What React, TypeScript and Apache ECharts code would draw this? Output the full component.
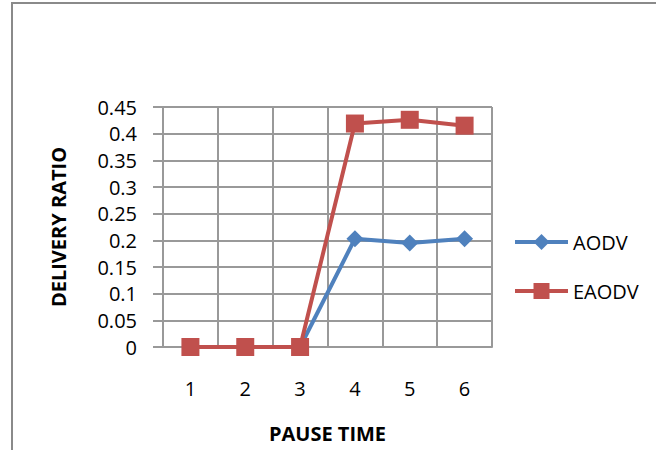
import React, { useEffect, useRef } from "react";
import * as echarts from "echarts";

const categories = ["1", "2", "3", "4", "5", "6"];
const aodv = [0, 0, 0, 0.203, 0.195, 0.203];
const eaodv = [0, 0, 0, 0.419, 0.426, 0.415];
const xName = "PAUSE TIME";
const yName = "DELIVERY RATIO";

const FONT = "'Open Sans', 'Noto Sans', sans-serif";
const GRID = "#999999";

export default function App() {
  const ref = useRef<HTMLDivElement>(null);
  useEffect(() => {
    if (!ref.current) return;
    const chart = echarts.init(ref.current, null, { renderer: "svg" });
    chart.setOption({
      animation: false,
      backgroundColor: "#ffffff",
      textStyle: { fontFamily: FONT },
      graphic: [
        {
          type: "rect",
          shape: { x: 12, y: 3, width: 720, height: 520 },
          style: { fill: "none", stroke: "#8a8a8a", lineWidth: 2 },
          silent: true,
        },
      ],
      grid: { left: 163, right: 164, top: 107, bottom: 103 },
      legend: {
        orient: "vertical",
        left: 513,
        top: 232,
        padding: 0,
        itemWidth: 53,
        itemHeight: 20,
        itemGap: 29,
        lineStyle: { width: 4 },
        textStyle: { fontFamily: FONT, fontSize: 20, color: "#000" },
        data: ["AODV", "EAODV"],
      },
      xAxis: {
        type: "category",
        data: categories,
        boundaryGap: true,
        name: xName,
        nameLocation: "middle",
        nameGap: 76,
        nameTextStyle: { fontFamily: FONT, fontSize: 20, fontWeight: "bold", color: "#000" },
        axisLine: { show: true, lineStyle: { color: GRID, width: 2 } },
        axisTick: { show: false },
        axisLabel: { margin: 31, fontFamily: FONT, fontSize: 20, color: "#000" },
        splitLine: { show: true, lineStyle: { color: GRID, width: 2 } },
      },
      yAxis: {
        type: "value",
        min: 0,
        max: 0.45,
        interval: 0.05,
        name: yName,
        nameLocation: "middle",
        nameGap: 95,
        nameRotate: 90,
        nameTextStyle: { fontFamily: FONT, fontSize: 20, fontWeight: "bold", color: "#000" },
        axisLine: { show: true, lineStyle: { color: GRID, width: 2 } },
        axisTick: { show: true, length: 10, lineStyle: { color: GRID, width: 2 } },
        axisLabel: { margin: 26, fontFamily: FONT, fontSize: 20, color: "#000" },
        splitLine: { show: true, lineStyle: { color: GRID, width: 2 } },
      },
      series: [
        {
          name: "AODV",
          type: "line",
          data: aodv,
          symbol: "diamond",
          symbolSize: 17,
          itemStyle: { color: "#4F81BD" },
          lineStyle: { color: "#4F81BD", width: 4 },
        },
        {
          name: "EAODV",
          type: "line",
          data: eaodv,
          symbol: "rect",
          symbolSize: 18,
          itemStyle: { color: "#C0504D" },
          lineStyle: { color: "#C0504D", width: 4 },
        },
      ],
    });
    return () => chart.dispose();
  }, []);
  return (
    <div
      ref={ref}
      style={{ position: "fixed", left: 0, top: 0, width: 656, height: 450 }}
    />
  );
}
